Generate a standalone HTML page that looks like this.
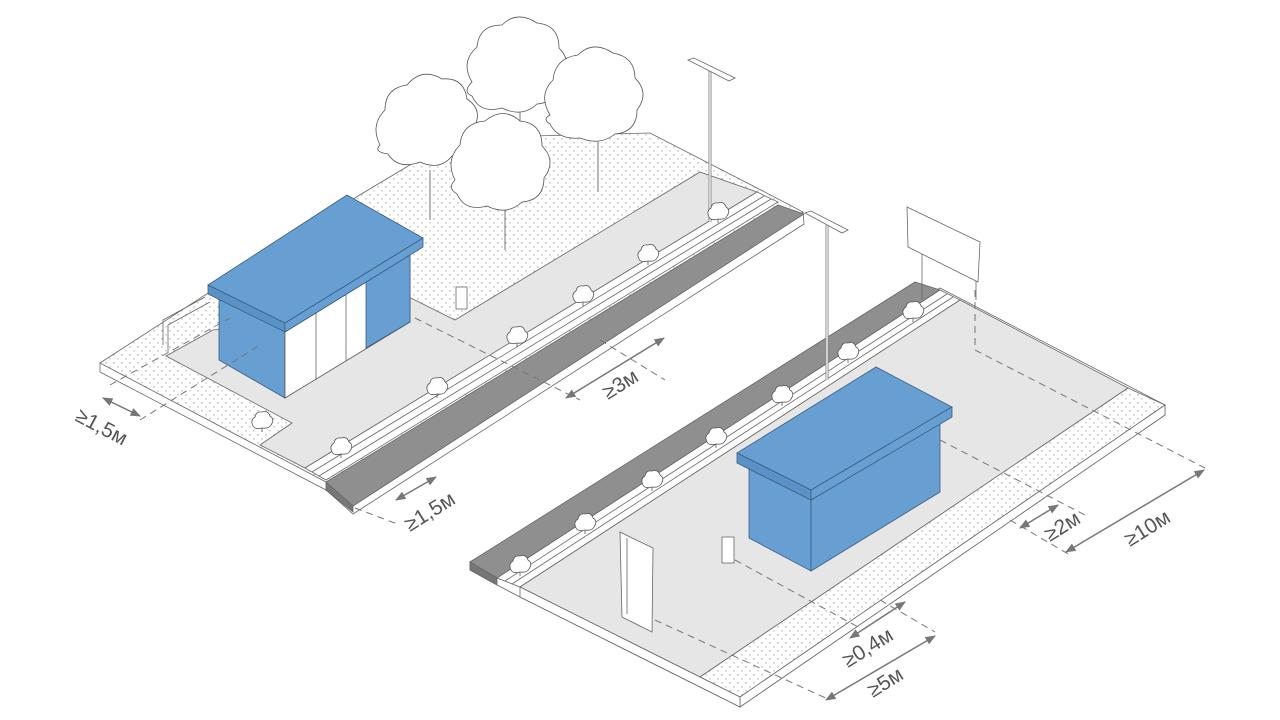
<!DOCTYPE html>
<html><head><meta charset="utf-8"><style>
html,body{margin:0;padding:0;background:#fff;}
svg{display:block;}
text{font-family:"Liberation Sans",sans-serif;font-size:21px;fill:#555;}
</style></head><body>
<svg width="1280" height="720" viewBox="0 0 1280 720" xmlns="http://www.w3.org/2000/svg">
<defs>
<pattern id="dots" width="8" height="8" patternUnits="userSpaceOnUse">
<rect width="8" height="8" fill="#fff"/>
<line x1="2" y1="2" x2="2" y2="3.6" stroke="#999" stroke-width="0.9"/>
<line x1="6" y1="6" x2="6" y2="7.6" stroke="#aaa" stroke-width="0.9"/>
</pattern>
<marker id="ar" viewBox="0 0 10 10" refX="9" refY="5" markerWidth="7" markerHeight="7" orient="auto-start-reverse">
<path d="M0,1 L10,5 L0,9 z" fill="#777"/>
</marker>
<g id="bush"><path d="M-9,4 q-3,-6 2,-9 q1,-6 7,-5 q6,-2 8,4 q5,3 1,9 q-2,4 -9,3 q-7,2 -9,-2z" fill="#fff" stroke="#555" stroke-width="0.8"/><line x1="0" y1="6" x2="0" y2="10" stroke="#555" stroke-width="0.8"/></g>
</defs>
<g stroke="#666" stroke-width="0.8">
<!-- LEFT BLOCK -->
<polygon points="100,363 100,372 326,490 353,514 804,224 803,212" fill="#fff"/>
<polygon points="100,363 358,196 455,138 650,133 757,188 803,212 353,506 326,482" fill="url(#dots)"/>
<polygon points="166,356 213,330 411,298 455,320 700,172 757,192 305,468 260,445 292,423" fill="#e6e6e6"/>
<polygon points="305,468 757,192 778,202 326,480" fill="#fff"/>
<line x1="312" y1="472" x2="764" y2="196"/>
<line x1="319" y1="476" x2="771" y2="199"/>
<polygon points="326,482 778,205 804,214 353,506" fill="#8f8f8f" stroke="#666"/>
<polygon points="326,482 353,506 353,512 326,490" fill="#777"/>
<!-- fence -->
<polyline points="163,345 163,320 205,297" fill="none"/>
<polyline points="168,352 168,325 210,302" fill="none"/>
<!-- left shelter -->
<polygon points="219,295 285,332 285,398 219,360" fill="#679fd3" stroke="#3c5d80"/>
<polygon points="285,332 410,255 410,322 285,398" fill="#fff" stroke="#555"/>
<polygon points="366,282 410,255 410,322 366,348" fill="#679fd3" stroke="#3c5d80"/>
<line x1="316" y1="313" x2="316" y2="380"/><line x1="346" y1="295" x2="346" y2="361"/>
<polygon points="208,285 347,195 423,238 285,323" fill="#679fd3" stroke="#3c5d80"/>
<polygon points="208,285 285,323 285,332 208,294" fill="#5a92c8" stroke="#3c5d80"/>
<polygon points="285,323 423,238 423,247 285,332" fill="#679fd3" stroke="#3c5d80"/>
<!-- bin -->
<rect x="456" y="287" width="11" height="22" fill="#fff"/>
<!-- lamp left -->
<line x1="710" y1="70" x2="710" y2="222" stroke-width="3" stroke="#888"/>
<line x1="710" y1="70" x2="710" y2="222" stroke="#fff" stroke-width="1.2"/>
<polygon points="688,60 694,58 735,78 729,81" fill="#fff"/>
<!-- trees -->
<g fill="#fff" stroke="#555">
<line x1="430" y1="170" x2="430" y2="220"/><line x1="505" y1="200" x2="505" y2="250"/>
<line x1="520" y1="100" x2="520" y2="140"/><line x1="598" y1="140" x2="598" y2="192"/>
<path d="M380,145 q-10,-20 5,-35 q0,-22 22,-25 q15,-18 35,-6 q22,-2 25,20 q18,12 5,32 q2,22 -20,25 q-12,15 -32,6 q-22,8 -32,-8 q-15,-2 -8,-9z"/>
<path d="M472,82 q-12,-20 5,-35 q2,-22 25,-22 q15,-15 35,-2 q22,2 22,25 q15,15 0,32 q0,22 -22,24 q-15,14 -35,4 q-22,6 -30,-12 q-10,-4 0,-14z"/>
<path d="M550,115 q-12,-20 3,-35 q2,-22 25,-25 q15,-15 35,-2 q22,4 22,25 q15,15 2,32 q0,22 -22,24 q-15,12 -35,4 q-22,2 -30,-14 q-8,-5 0,-9z"/>
<path d="M455,180 q-10,-20 5,-35 q2,-22 25,-24 q18,-15 35,0 q22,2 22,25 q15,15 2,32 q0,22 -22,24 q-15,14 -35,4 q-22,6 -30,-12 q-10,-6 -2,-14z"/>
</g>
<!-- RIGHT BLOCK -->
<polygon points="470,562 940,288 1165,405 1165,415 740,707 520,597 497,585 470,570" fill="#fff"/>
<polygon points="470,562 915,282 940,290 497,578" fill="#8f8f8f"/>
<polygon points="470,562 497,578 497,585 470,570" fill="#777"/>
<polygon points="497,578 940,290 960,300 520,587" fill="#fff"/>
<line x1="505" y1="581" x2="947" y2="294"/><line x1="512" y1="584" x2="953" y2="297"/>
<polygon points="520,587 960,300 1128,388 700,677" fill="#e6e6e6"/>
<polygon points="700,677 1128,388 1165,405 740,697" fill="url(#dots)"/>
<polygon points="740,697 1165,405 1165,415 740,707" fill="#fff"/>
<polygon points="520,587 740,697 740,707 520,597" fill="#fff"/>
<!-- right box -->
<polygon points="749,467 811,500 811,571 749,538" fill="#679fd3" stroke="#3c5d80"/>
<polygon points="811,500 940,420 940,492 811,571" fill="#679fd3" stroke="#3c5d80"/>
<polygon points="737,453 876,367 952,407 811,490" fill="#679fd3" stroke="#3c5d80"/>
<polygon points="737,453 811,490 811,500 737,463" fill="#5a92c8" stroke="#3c5d80"/>
<polygon points="811,490 952,407 952,417 811,500" fill="#679fd3" stroke="#3c5d80"/>
<!-- lamp right -->
<line x1="827" y1="225" x2="827" y2="380" stroke-width="3" stroke="#888"/>
<line x1="827" y1="225" x2="827" y2="380" stroke="#fff" stroke-width="1.2"/>
<polygon points="805,213 811,211 848,230 842,233" fill="#fff"/>
<!-- billboard -->
<line x1="922" y1="240" x2="922" y2="300"/><line x1="976" y1="270" x2="976" y2="300"/>
<polygon points="907,207 980,242 978,282 908,247" fill="#fff"/>
<!-- totem & meter -->
<polygon points="620,532 630,537 653,548 652,632 622,617" fill="#fff"/>
<line x1="627" y1="538" x2="627" y2="614"/>
<rect x="722" y="537" width="12" height="26" fill="#fff"/>
</g>
<!-- bushes -->
<use href="#bush" x="262" y="422"/><use href="#bush" x="341" y="448"/><use href="#bush" x="437" y="388"/>
<use href="#bush" x="517" y="337"/><use href="#bush" x="583" y="296"/><use href="#bush" x="648" y="255"/><use href="#bush" x="718" y="213"/>
<use href="#bush" x="520" y="566"/><use href="#bush" x="585" y="524"/><use href="#bush" x="652" y="481"/><use href="#bush" x="716" y="438"/>
<use href="#bush" x="782" y="396"/><use href="#bush" x="848" y="353"/><use href="#bush" x="913" y="312"/>
<!-- dashed -->
<g stroke="#777" stroke-width="1" stroke-dasharray="7,5" fill="none">
<line x1="110" y1="385" x2="230" y2="318"/>
<line x1="140" y1="420" x2="260" y2="345"/>
<line x1="415" y1="318" x2="580" y2="400"/>
<line x1="600" y1="340" x2="665" y2="380"/>
<line x1="355" y1="508" x2="400" y2="525"/>
<line x1="975" y1="290" x2="975" y2="350"/>
<line x1="975" y1="350" x2="1205" y2="468"/>
<line x1="940" y1="440" x2="1085" y2="515"/>
<line x1="1010" y1="520" x2="1070" y2="555"/>
<line x1="735" y1="560" x2="860" y2="628"/>
<line x1="655" y1="620" x2="830" y2="700"/>
<line x1="880" y1="600" x2="935" y2="632"/>
</g>
<!-- arrows -->
<g stroke="#777" stroke-width="1.5" fill="none" marker-start="url(#ar)" marker-end="url(#ar)">
<line x1="103" y1="398" x2="140" y2="416"/>
<line x1="396" y1="500" x2="436" y2="477"/>
<line x1="566" y1="398" x2="664" y2="338"/>
<line x1="1020" y1="528" x2="1058" y2="505"/>
<line x1="1066" y1="552" x2="1204" y2="470"/>
<line x1="850" y1="638" x2="905" y2="602"/>
<line x1="826" y1="700" x2="935" y2="636"/>
</g>
<text transform="translate(74,420) rotate(28)">≥1,5м</text>
<text transform="translate(410,532) rotate(-32)">≥1,5м</text>
<text transform="translate(608,400) rotate(-32)">≥3м</text>
<text transform="translate(1050,542) rotate(-32)">≥2м</text>
<text transform="translate(1130,547) rotate(-32)">≥10м</text>
<text transform="translate(848,668) rotate(-32)">≥0,4м</text>
<text transform="translate(873,698) rotate(-32)">≥5м</text>
</svg>
</body></html>
